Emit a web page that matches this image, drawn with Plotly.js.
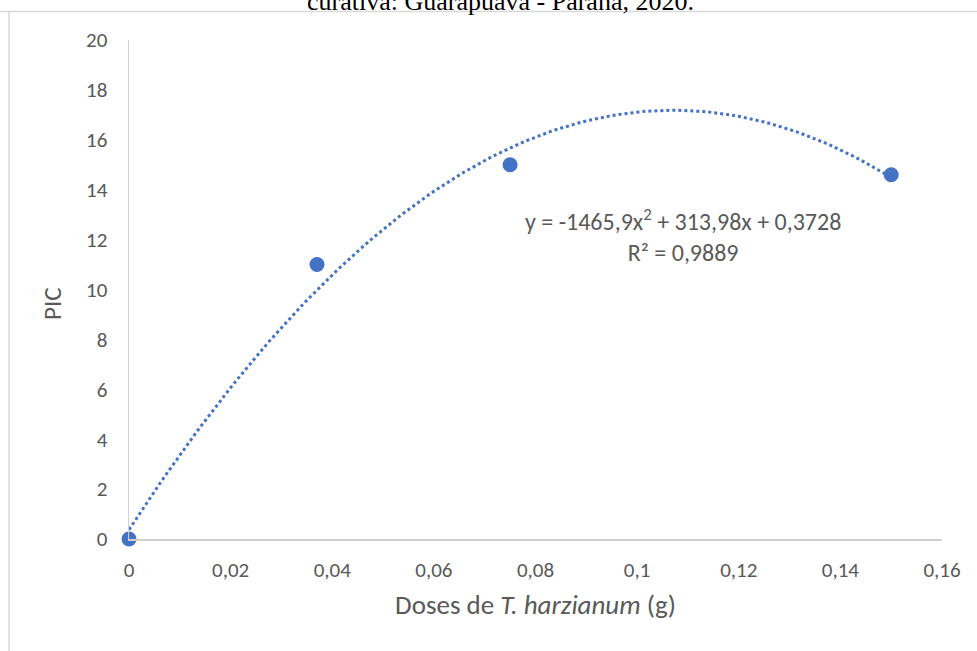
<!DOCTYPE html>
<html>
<head>
<meta charset="utf-8">
<script src="https://cdn.plot.ly/plotly-3.0.1.min.js"></script>
<style>html,body{margin:0;padding:0;background:#fff;}#chart{width:977px;height:651px;}</style>
</head>
<body>
<div id="chart"></div>
<script>
// Data
const doses = [0, 0.037, 0.075, 0.15];
const pic = [0, 11, 15, 14.6];
// Trendline coefficients shown on the chart: y = a x^2 + b x + c
const coefA = -1465.9, coefB = 313.98, coefC = 0.3728;
const xTicks = [0, 0.02, 0.04, 0.06, 0.08, 0.1, 0.12, 0.14, 0.16];
const yTicks = [0, 2, 4, 6, 8, 10, 12, 14, 16, 18, 20];

const trendX = [], trendY = [];
for (let i = 0; i <= 150; i++) {
  const x = doses[0] + (doses[doses.length - 1] - doses[0]) * i / 150;
  trendX.push(x);
  trendY.push(coefA * x * x + coefB * x + coefC);
}

const font = "Carlito, Lato, 'Liberation Sans', sans-serif";
const gray = '#595959';
const blue = '#4472C4';

const traces = [
  {x: trendX, y: trendY, type: 'scatter', mode: 'lines', line: {color: blue, width: 3, dash: 'dot'}, cliponaxis: false, hoverinfo: 'skip'},
  {x: doses, y: pic, type: 'scatter', mode: 'markers', marker: {color: blue, size: 15}, cliponaxis: false}
];

const W = 813, H = 499, L = 129, T = 40;
const px = p => (p - L) / W;
const py = p => (T + H - p) / H;

const layout = {
  width: 977, height: 651,
  margin: {l: 129, r: 35, t: 40, b: 112},
  paper_bgcolor: '#fff', plot_bgcolor: '#fff',
  separators: ', ',
  showlegend: false,
  font: {family: font, color: gray, size: 21},
  xaxis: {
    range: [0, 0.16], tickvals: xTicks, ticktext: xTicks.map(v => String(v).replace('.', ',')),
    showgrid: false, zeroline: false, showline: true, linecolor: '#d0d0d0', linewidth: 1.5,
    ticks: '', ticklabelstandoff: 11,
    tickfont: {family: font, size: 21, color: gray},
    title: {text: 'Doses de <i>T. harzianum</i> (g)', font: {family: font, size: 27, color: gray}, standoff: 13}
  },
  yaxis: {
    range: [0, 20], tickvals: yTicks,
    showgrid: false, zeroline: false, showline: true, linecolor: '#d0d0d0', linewidth: 1.5,
    ticks: '', ticklabelstandoff: 16,
    tickfont: {family: font, size: 21, color: gray}
  },
  shapes: [
    {type: 'line', xref: 'paper', yref: 'paper', x0: px(0), x1: px(977), y0: py(11.5), y1: py(11.5), line: {color: '#d9d9d9', width: 1.5}},
    {type: 'line', xref: 'paper', yref: 'paper', x0: px(9), x1: px(9), y0: py(11.5), y1: py(651), line: {color: '#d9d9d9', width: 1.5}}
  ],
  annotations: [
    {xref: 'paper', yref: 'paper', x: px(500), y: py(1), xanchor: 'center', yanchor: 'middle', showarrow: false,
     text: 'curativa: Guarapuava - Paraná, 2020.', font: {family: "'Liberation Serif', 'Times New Roman', serif", size: 26, color: '#000'}},
    {xref: 'paper', yref: 'paper', x: px(52), y: py(304), xanchor: 'center', yanchor: 'middle', showarrow: false, textangle: -90,
     text: 'PIC', font: {family: font, size: 25, color: gray}},
    {xref: 'x', yref: 'y', x: 0.109, y: 12.15, xanchor: 'center', yanchor: 'middle', showarrow: false, align: 'center',
     text: 'y = -1465,9x<sup>2</sup> + 313,98x + 0,3728<br>R² = 0,9889', font: {family: font, size: 24, color: gray}}
  ]
};

Plotly.newPlot('chart', traces, layout, {displayModeBar: false, staticPlot: true});
</script>
</body>
</html>
